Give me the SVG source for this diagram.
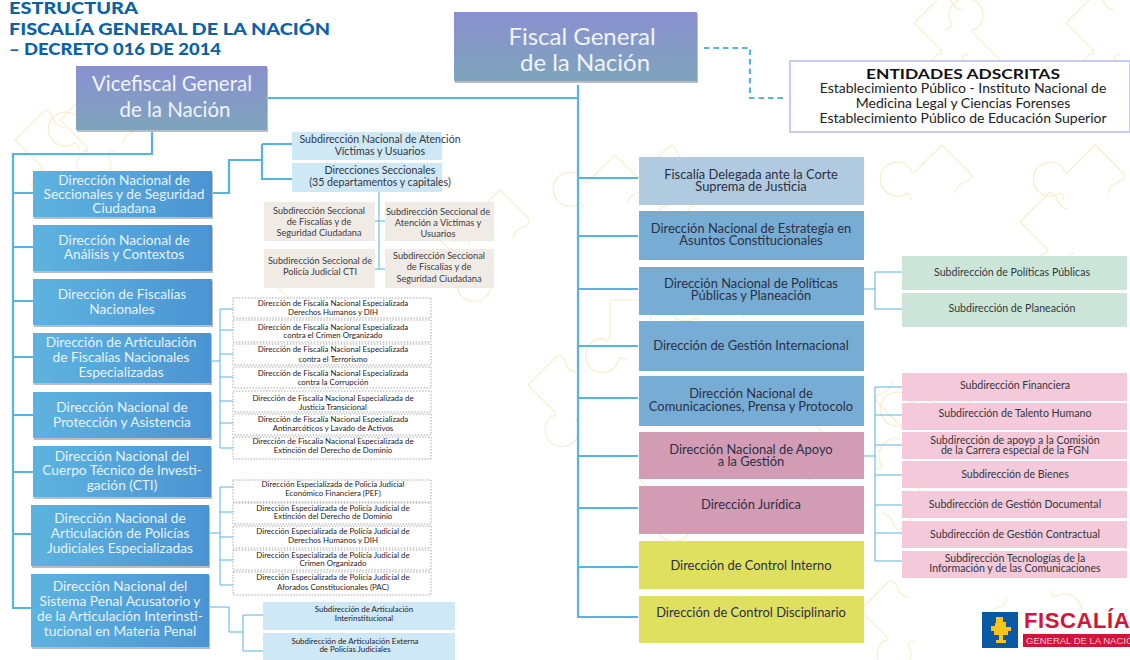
<svg xmlns="http://www.w3.org/2000/svg" width="1130" height="660" viewBox="0 0 1130 660">
<style>
text{font-family:Lato,"Liberation Sans",sans-serif;text-anchor:middle}
.bg{fill:none;stroke:#f8eecb;stroke-width:1.2px}
.c{fill:none;stroke:#56b4e2;stroke-width:2.2px}
.t{fill:none;stroke:#56b4e2;stroke-width:1px}
.sh{filter:drop-shadow(1px 2px 0 #b9bcc2)}
.w{fill:#e6f3fb;font-size:13.7px}
.d{fill:#2b3045;font-size:12.9px}
.s{fill:#33363f;font-size:10.6px}
.m{fill:#3c3c42;font-size:9.2px}
.x{fill:#1f2025;font-size:7.9px}
.ds{fill:#fff;stroke:#a9a9a9;stroke-width:1px;stroke-dasharray:1.5 1.5}
.ttl{fill:#0b62a8;font-size:17px;font-weight:900;text-anchor:start}
</style>
<defs>
<linearGradient id="gp" x1="0" y1="0" x2="0" y2="1"><stop offset="0" stop-color="#8a90cf"/><stop offset="1" stop-color="#7ea4bc"/></linearGradient>
<linearGradient id="gb" x1="0" y1="0" x2="1" y2="0"><stop offset="0" stop-color="#5db3df"/><stop offset="1" stop-color="#4b94d3"/></linearGradient>
<path id="pz" class="bg" d="M0,0L28,-28q6,-4 9,5q3,9 11,10M0,0L27,27q2,5 -3,4a17,17 0 1 0 24,4q1,-4 7,-4"/>
</defs>
<rect width="1130" height="660" fill="#fff"/>
<g id="background">
<use href="#pz" x="528" y="385"/><use href="#pz" x="914" y="23"/><use href="#pz" x="1066" y="23"/><use href="#pz" x="1020" y="222"/>
<use href="#pz" transform="translate(942,145) rotate(90)"/><use href="#pz" transform="translate(1095,145) rotate(90)"/><use href="#pz" transform="translate(1000,60) rotate(180)"/>
<use href="#pz" x="640" y="175"/><use href="#pz" transform="translate(615,155) rotate(90)"/><use href="#pz" transform="translate(610,300) rotate(45)"/>
<use href="#pz" x="860" y="610"/><use href="#pz" transform="translate(942,375) rotate(90)"/><use href="#pz" transform="translate(930,500) rotate(180)"/><use href="#pz" transform="translate(905,430) rotate(270)"/>
<use href="#pz" x="15" y="140"/><use href="#pz" x="60" y="120"/><use href="#pz" transform="translate(110,95) rotate(90)"/><use href="#pz" transform="translate(270,280) rotate(0)"/>
<use href="#pz" x="440" y="240"/><use href="#pz" transform="translate(500,190) rotate(90)"/><use href="#pz" x="240" y="330"/><use href="#pz" transform="translate(840,450) rotate(180)"/>
<use href="#pz" x="640" y="480"/><use href="#pz" transform="translate(730,270) rotate(90)"/><use href="#pz" transform="translate(1020,645) rotate(270)"/>
</g>
<g id="connectors">
<path class="c" d="M268,98H578M578,85V617H638M578,178H638M578,236H638M578,289H638M578,346H638M578,398H638M578,456H638M578,508H638M578,567H638"/>
<path class="c" d="M704,48H750V98H784" stroke-dasharray="5.5 4"/>
<path class="c" d="M152,131V154H13V608H33M13,193H33M13,247H33M13,301H33M13,357H33M13,415H33M13,472H33M13,534H33"/>
<path class="c" d="M212,193H229V160H262M262,144V179H292M262,144H292"/>
<path class="t" d="M864,289H875M902,272H875V309H902"/>
<path class="t" d="M864,456H875M902,387H875V561H902M875,415H902M875,445H902M875,475H902M875,505H902M875,533H902"/>
<path class="t" d="M379,192V269M375,221H385M375,269H385"/>
<path class="t" d="M212,361H220M233,309H220V448H233M220,330H233M220,354H233M220,377H233M220,401H233M220,423H233"/>
<path class="t" d="M209,533H220M233,487H220V585H233M220,512H233M220,537H233M220,560H233"/>
<path class="t" d="M209,607H229V632H243M263,615H243V651H263"/>
</g>
<text class="ttl" x="9" y="14" textLength="129" lengthAdjust="spacingAndGlyphs">ESTRUCTURA</text>
<text class="ttl" x="9" y="35" textLength="321" lengthAdjust="spacingAndGlyphs">FISCALÍA GENERAL DE LA NACIÓN</text>
<text class="ttl" x="9" y="55" textLength="212" lengthAdjust="spacingAndGlyphs">– DECRETO 016 DE 2014</text>
<g id="fiscal"><rect class="sh" x="454" y="12" width="243" height="69" fill="url(#gp)"/><text x="582" y="45" fill="#f0f3fa" font-size="24">Fiscal General</text><text x="585" y="71" fill="#f0f3fa" font-size="24">de la Nación</text></g>
<g id="vicefiscal"><rect class="sh" x="76" y="66" width="191" height="64" fill="url(#gp)"/><text x="172" y="91" fill="#f0f3fa" font-size="20.500">Vicefiscal General</text><text x="175" y="117" fill="#f0f3fa" font-size="20.500">de la Nación</text></g>
<g id="entidades"><rect x="790" y="61" width="340" height="71" fill="#fff" stroke="#b5bde8" stroke-width="1.5"/>
<text x="963" y="79" fill="#111" font-size="14" font-weight="700" textLength="194" lengthAdjust="spacingAndGlyphs">ENTIDADES ADSCRITAS</text>
<text x="963" y="93" fill="#222" font-size="14">Establecimiento Público - Instituto Nacional de</text>
<text x="963" y="108" fill="#222" font-size="14">Medicina Legal y Ciencias Forenses</text>
<text x="963" y="123" fill="#222" font-size="14">Establecimiento Público de Educación Superior</text></g>

<g id="d1"><rect class="sh" x="33" y="171" width="179" height="46" fill="url(#gb)"/><text class="w" x="124" y="185">Dirección Nacional de</text><text class="w" x="124" y="199">Seccionales y de Seguridad</text><text class="w" x="124" y="213">Ciudadana</text></g>
<g id="d2"><rect class="sh" x="33" y="225" width="179" height="46" fill="url(#gb)"/><text class="w" x="124" y="245">Dirección Nacional de</text><text class="w" x="124" y="259">Análisis y Contextos</text></g>
<g id="d3"><rect class="sh" x="33" y="279" width="179" height="46" fill="url(#gb)"/><text class="w" x="122" y="299">Dirección de Fiscalías</text><text class="w" x="122" y="314">Nacionales</text></g>
<g id="d4"><rect class="sh" x="33" y="333" width="178" height="50" fill="url(#gb)"/><text class="w" x="121" y="347">Dirección de Articulación</text><text class="w" x="121" y="362">de Fiscalías Nacionales</text><text class="w" x="121" y="377">Especializadas</text></g>
<g id="d5"><rect class="sh" x="33" y="392" width="178" height="46" fill="url(#gb)"/><text class="w" x="122" y="412">Dirección Nacional de</text><text class="w" x="122" y="427">Protección y Asistencia</text></g>
<g id="d6"><rect class="sh" x="33" y="446" width="178" height="51" fill="url(#gb)"/><text class="w" x="122" y="461">Dirección Nacional del</text><text class="w" x="122" y="475">Cuerpo Técnico de Investi-</text><text class="w" x="122" y="490">gación (CTI)</text></g>
<g id="d7"><rect class="sh" x="31" y="505" width="178" height="61" fill="url(#gb)"/><text class="w" x="120" y="523">Dirección Nacional de</text><text class="w" x="120" y="538">Articulación de Policías</text><text class="w" x="120" y="553">Judiciales Especializadas</text></g>
<g id="d8"><rect class="sh" x="31" y="574" width="178" height="73" fill="url(#gb)"/><text class="w" x="120" y="591">Dirección Nacional del</text><text class="w" x="120" y="606">Sistema Penal Acusatorio y</text><text class="w" x="120" y="621">de la Articulación Interinsti-</text><text class="w" x="120" y="636">tucional en Materia Penal</text></g>

<g id="s1"><rect x="292" y="132" width="150" height="28" fill="#cfe8f6"/><text class="s" x="380" y="143">Subdirección  Nacional de Atención</text><text class="s" x="380" y="155">Víctimas y Usuarios</text></g>
<g id="s2"><rect x="292" y="163" width="150" height="29" fill="#cfe8f6"/><text class="s" x="380" y="174">Direcciones Seccionales</text><text class="s" x="380" y="186">(35 departamentos y capitales)</text></g>
<g id="m1"><rect x="264" y="202" width="111" height="39" fill="#f1ebe6"/><text class="m" x="319" y="214">Subdirección  Seccional</text><text class="m" x="319" y="225">de Fiscalías y de</text><text class="m" x="319" y="236">Seguridad Ciudadana</text></g>
<g id="m2"><rect x="264" y="249" width="111" height="39" fill="#f1ebe6"/><text class="m" x="320" y="264">Subdirección Seccional de</text><text class="m" x="320" y="275">Policía Judicial  CTI</text></g>
<g id="m3"><rect x="385" y="202" width="109" height="39" fill="#f1ebe6"/><text class="m" x="438" y="215">Subdirección Seccional de</text><text class="m" x="438" y="226">Atención a Víctimas y</text><text class="m" x="438" y="237">Usuarios</text></g>
<g id="m4"><rect x="385" y="249" width="109" height="39" fill="#f1ebe6"/><text class="m" x="439" y="259">Subdirección  Seccional</text><text class="m" x="439" y="270">de Fiscalías y de</text><text class="m" x="439" y="282">Seguridad Ciudadana</text></g>

<g id="f1"><rect class="ds" x="233" y="298" width="198" height="20"/><text class="x" x="333" y="306">Dirección de Fiscalía Nacional Especializada</text><text class="x" x="333" y="314.500">Derechos Humanos y DIH</text></g>
<g id="f2"><rect class="ds" x="233" y="320" width="198" height="22"/><text class="x" x="333" y="329.500">Dirección de Fiscalía Nacional  Especializada</text><text class="x" x="333" y="337.500">contra el Crimen Organizado</text></g>
<g id="f3"><rect class="ds" x="233" y="344" width="198" height="21"/><text class="x" x="333" y="352">Dirección de Fiscalía Nacional Especializada</text><text class="x" x="333" y="361.500">contra el Terrorismo</text></g>
<g id="f4"><rect class="ds" x="233" y="367" width="198" height="21"/><text class="x" x="333" y="376">Dirección de Fiscalía Nacional  Especializada</text><text class="x" x="333" y="385">contra la Corrupción</text></g>
<g id="f5"><rect class="ds" x="233" y="391" width="198" height="21"/><text class="x" x="333" y="401">Dirección de Fiscalía Nacional Especializada de</text><text class="x" x="333" y="410">Justicia Transicional</text></g>
<g id="f6"><rect class="ds" x="233" y="414" width="198" height="21"/><text class="x" x="333" y="422">Dirección de Fiscalía Nacional  Especializada</text><text class="x" x="333" y="430.500">Antinarcóticos y Lavado de Activos</text></g>
<g id="f7"><rect class="ds" x="233" y="437" width="198" height="22"/><text class="x" x="333" y="444">Dirección de Fiscalía Nacional  Especializada de</text><text class="x" x="333" y="453">Extinción del Derecho de Dominio</text></g>

<g id="p1"><rect class="ds" x="233" y="480" width="198" height="22"/><text class="x" x="333" y="487">Dirección Especializada de Policía Judicial</text><text class="x" x="333" y="496">Económico  Financiera (PEF)</text></g>
<g id="p2"><rect class="ds" x="233" y="503" width="198" height="21"/><text class="x" x="333" y="511">Dirección Especializada de Policía Judicial de</text><text class="x" x="333" y="519">Extinción del Derecho de Dominio</text></g>
<g id="p3"><rect class="ds" x="233" y="526" width="198" height="22"/><text class="x" x="333" y="534">Dirección Especializada de Policía Judicial de</text><text class="x" x="333" y="542.500">Derechos Humanos y DIH</text></g>
<g id="p4"><rect class="ds" x="233" y="550" width="198" height="20"/><text class="x" x="333" y="558">Dirección Especializada de Policía Judicial de</text><text class="x" x="333" y="566">Crimen Organizado</text></g>
<g id="p5"><rect class="ds" x="233" y="572" width="198" height="23"/><text class="x" x="333" y="580">Dirección  Especializada de Policía Judicial  de</text><text class="x" x="333" y="589.500">Aforados Constitucionales (PAC)</text></g>

<g id="a1"><rect x="263" y="602" width="192" height="28" fill="#cfe8f6"/><text class="x" x="364" y="612">Subdirección de Articulación</text><text class="x" x="364" y="620.500">Interinstitucional</text></g>
<g id="a2"><rect x="263" y="633" width="192" height="27" fill="#cfe8f6"/><text class="x" x="355" y="644">Subdirección de Articulación Externa</text><text class="x" x="355" y="652">de Policías Judiciales</text></g>

<g id="r1"><rect x="639" y="157" width="225" height="48" fill="#b0cbdf"/><text class="d" x="751" y="179">Fiscalía Delegada ante la Corte</text><text class="d" x="751" y="191">Suprema de Justicia</text></g>
<g id="r2"><rect x="639" y="211" width="225" height="49" fill="#77add4"/><text class="d" x="751" y="233">Dirección  Nacional de Estrategia en</text><text class="d" x="751" y="245">Asuntos Constitucionales</text></g>
<g id="r3"><rect x="639" y="267" width="225" height="48" fill="#77add4"/><text class="d" x="751" y="288">Dirección Nacional de Políticas</text><text class="d" x="751" y="300">Públicas y Planeación</text></g>
<g id="r4"><rect x="639" y="321" width="225" height="50" fill="#77add4"/><text class="d" x="751" y="350">Dirección de Gestión Internacional</text></g>
<g id="r5"><rect x="639" y="376" width="225" height="50" fill="#77add4"/><text class="d" x="751" y="398">Dirección Nacional de</text><text class="d" x="751" y="411">Comunicaciones, Prensa y Protocolo</text></g>
<g id="r6"><rect x="639" y="432" width="225" height="47" fill="#d39cb5"/><text class="d" x="751" y="454">Dirección  Nacional de Apoyo</text><text class="d" x="751" y="466">a la Gestión</text></g>
<g id="r7"><rect x="639" y="486" width="225" height="48" fill="#d39cb5"/><text class="d" x="751" y="509">Dirección Jurídica</text></g>
<g id="r8"><rect x="639" y="541" width="225" height="48" fill="#dfe060"/><text class="d" x="751" y="570">Dirección de Control Interno</text></g>
<g id="r9"><rect x="639" y="596" width="225" height="47" fill="#dfe060"/><text class="d" x="751" y="617">Dirección de Control Disciplinario</text></g>

<g id="g1"><rect x="902" y="256" width="225" height="34" fill="#cbe6d8"/><text class="s" x="1012" y="275.500">Subdirección de Políticas Públicas</text></g>
<g id="g2"><rect x="902" y="293" width="225" height="34" fill="#cbe6d8"/><text class="s" x="1012" y="312">Subdirección de Planeación</text></g>

<g id="k1"><rect x="902" y="373" width="225" height="28" fill="#f4c9d9"/><text class="s" x="1015" y="389">Subdirección Financiera</text></g>
<g id="k2"><rect x="902" y="403" width="225" height="27" fill="#f4c9d9"/><text class="s" x="1015" y="417">Subdirección de Talento Humano</text></g>
<g id="k3"><rect x="902" y="432" width="225" height="27" fill="#f4c9d9"/><text class="s" x="1015" y="443.500">Subdirección  de apoyo a la Comisión</text><text class="s" x="1015" y="453.500">de la Carrera especial de la FGN</text></g>
<g id="k4"><rect x="902" y="461" width="225" height="27" fill="#f4c9d9"/><text class="s" x="1015" y="478">Subdirección de Bienes</text></g>
<g id="k5"><rect x="902" y="491" width="225" height="27" fill="#f4c9d9"/><text class="s" x="1015" y="508">Subdirección de Gestión Documental</text></g>
<g id="k6"><rect x="902" y="521" width="225" height="27" fill="#f4c9d9"/><text class="s" x="1015" y="538">Subdirección de Gestión Contractual</text></g>
<g id="k7"><rect x="902" y="551" width="225" height="27" fill="#f4c9d9"/><text class="s" x="1015" y="562">Subdirección Tecnologías de la</text><text class="s" x="1015" y="571.500">Información y de las Comunicaciones</text></g>

<g id="logo">
<rect x="982" y="612" width="36" height="36" fill="#0a57a6"/>
<path fill="#f5c518" d="M996,617h7v5h3v5h5v4h-3v4h-5v5h3v3h-10v-3h3v-5h-5v-4h-3v-5h4v-3h1z"/>
<text x="1024" y="628" fill="#d2143a" font-size="22" font-weight="700" letter-spacing=".6" style="font-family:'Liberation Sans',sans-serif;text-anchor:start">FISCALÍA</text>
<rect x="1023" y="634" width="107" height="13" fill="#d2143a"/>
<text x="1026" y="644" fill="#f4c6cf" font-size="9.500" style="font-family:'Liberation Sans',sans-serif;text-anchor:start">GENERAL DE LA NACIÓN</text>
</g>
</svg>
